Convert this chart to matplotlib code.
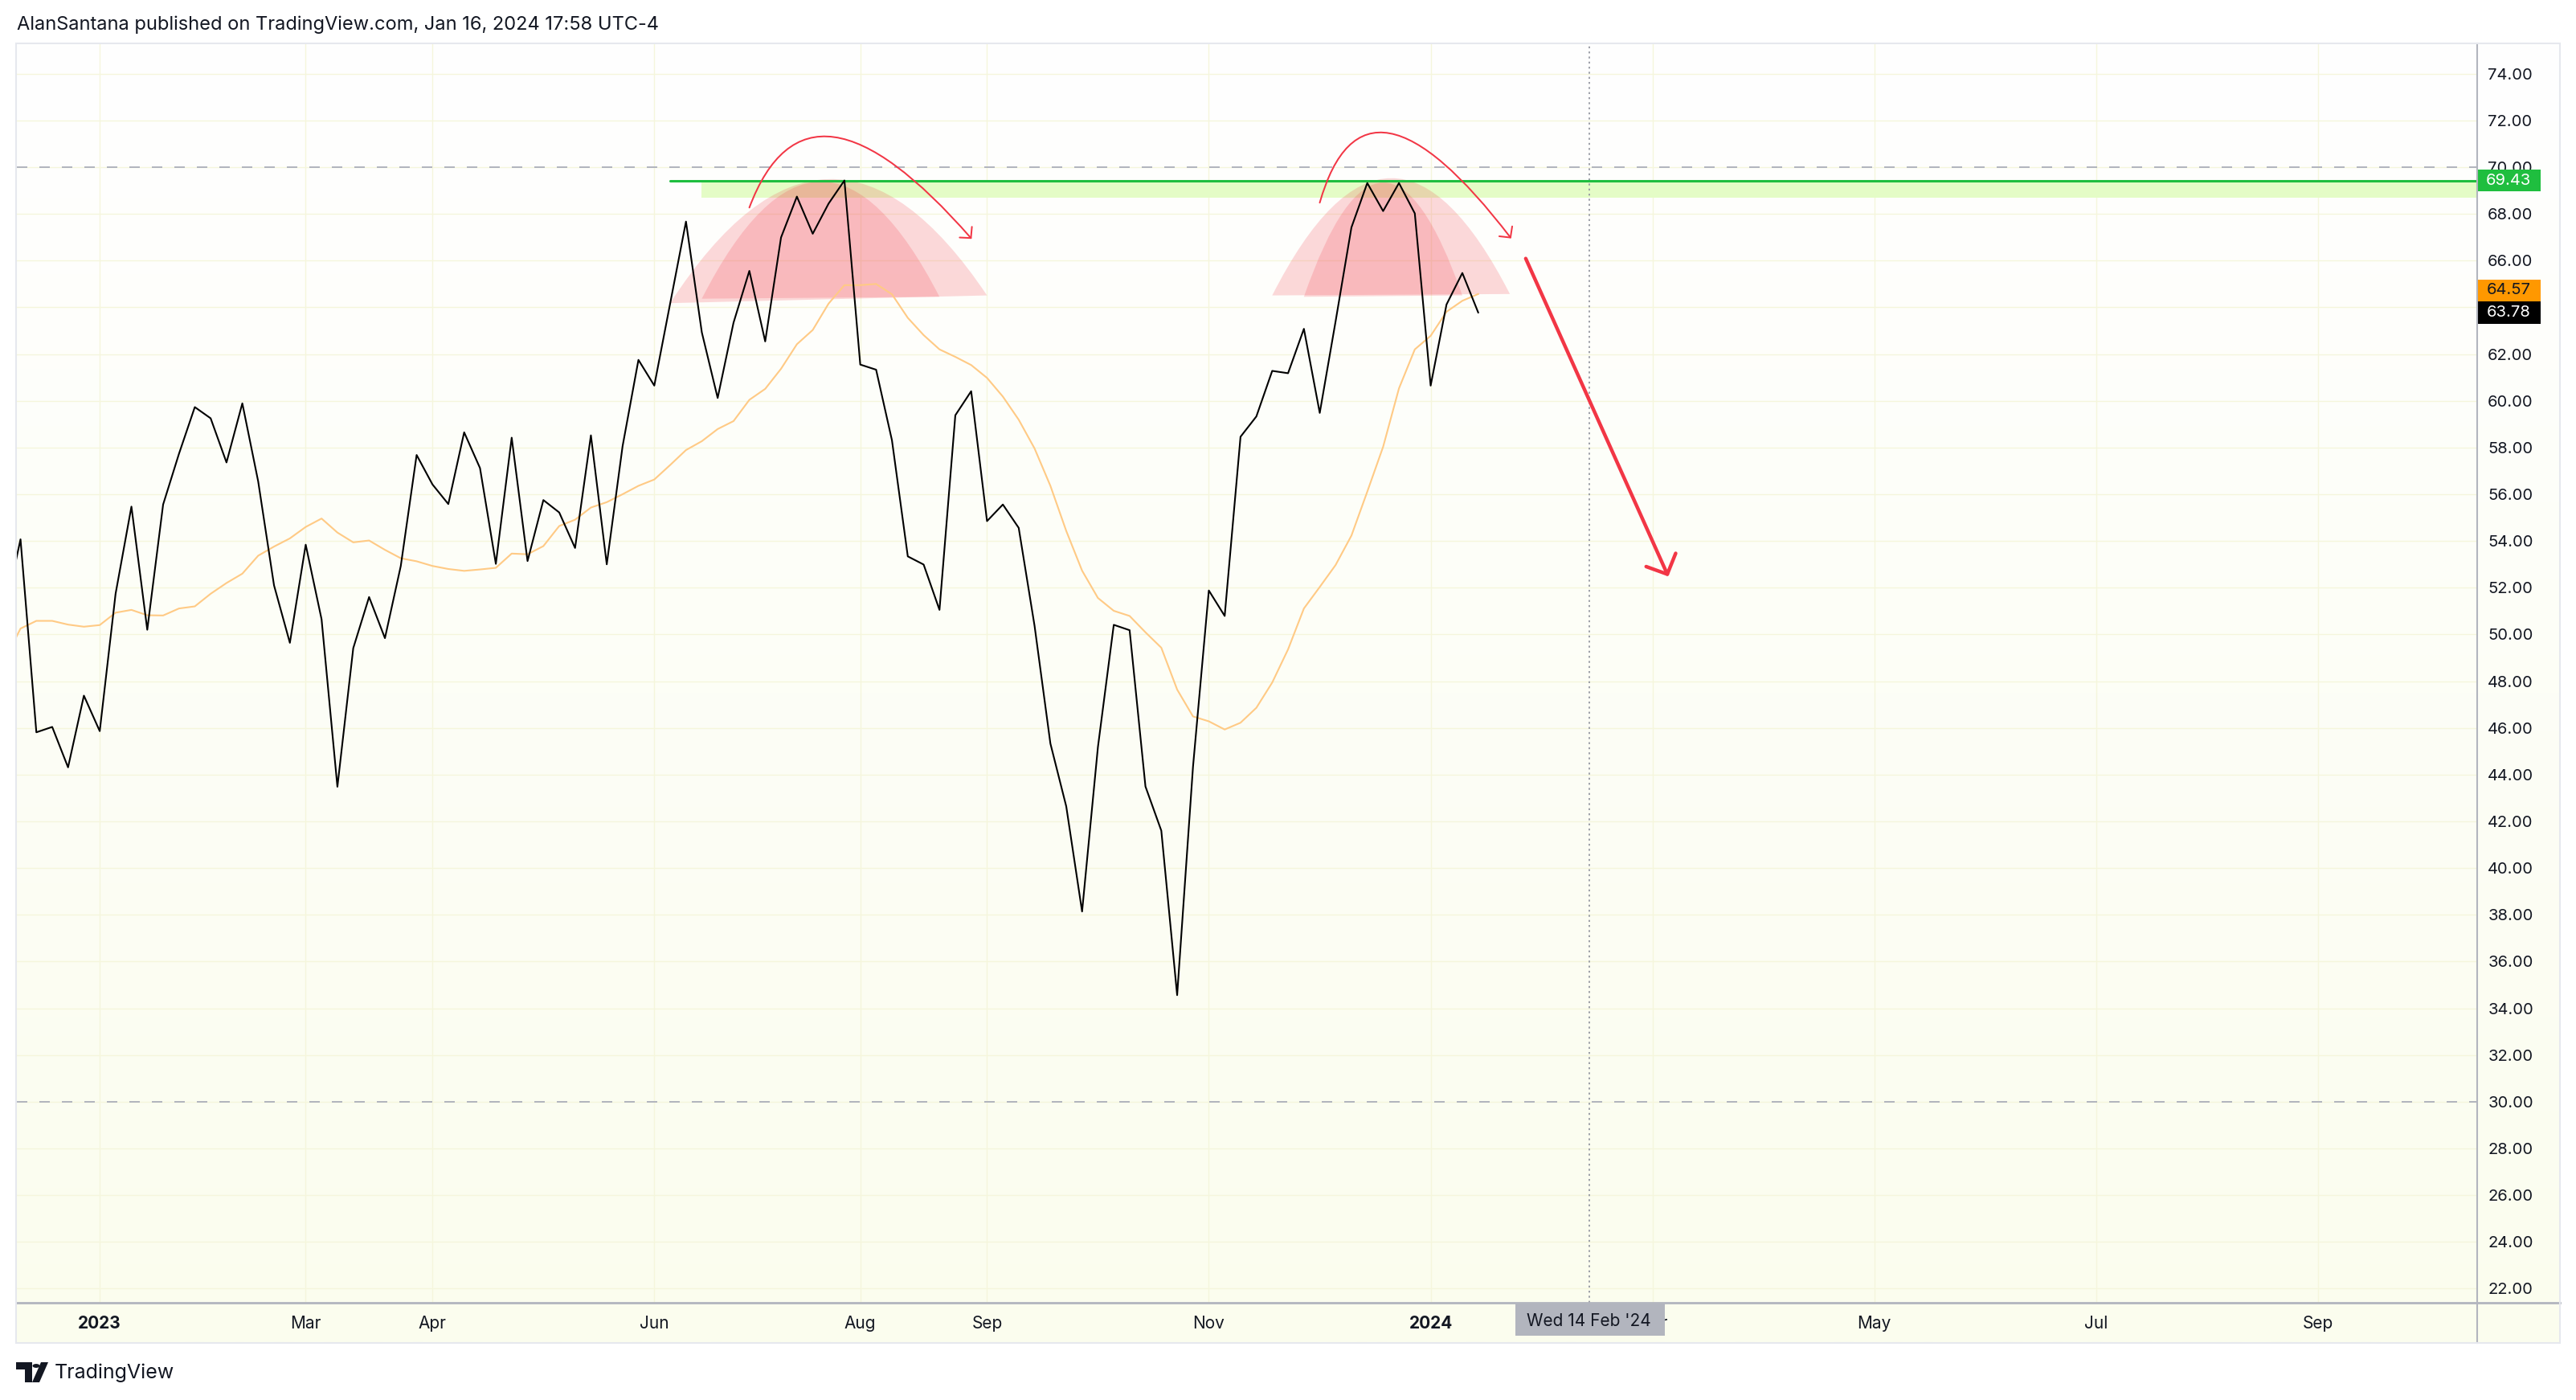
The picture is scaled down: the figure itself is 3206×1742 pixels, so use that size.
import numpy as np
import matplotlib
matplotlib.use("Agg")
import matplotlib.pyplot as plt
from matplotlib.path import Path
from matplotlib.patches import PathPatch, FancyArrowPatch, Rectangle, Polygon, Circle
from matplotlib.lines import Line2D
import matplotlib.transforms as mtransforms

plt.rcParams['font.family'] = ['Inter', 'DejaVu Sans']

# ---------------- data ----------------
bars = list(range(-1, 93))
close = [50.94, 54.07, 45.81, 46.04, 44.31, 47.38, 45.86, 51.74, 55.47, 50.20,
         55.56, 57.73, 59.73, 59.25, 57.36, 59.89, 56.55, 52.10, 49.64, 53.84,
         50.65, 43.48, 49.41, 51.60, 49.84, 52.93, 57.68, 56.42, 55.58, 58.65,
         57.12, 53.02, 58.42, 53.14, 55.75, 55.22, 53.70, 58.52, 53.00, 58.06,
         61.75, 60.65, 64.16, 67.67, 62.93, 60.12, 63.34, 65.56, 62.54, 66.99,
         68.74, 67.15, 68.44, 69.43, 61.55, 61.33, 58.31, 53.34, 52.99, 51.05,
         59.38, 60.41, 54.85, 55.56, 54.56, 50.37, 45.33, 42.64, 38.14, 45.18,
         50.41, 50.18, 43.49, 41.60, 34.56, 44.33, 51.88, 50.79, 58.46, 59.33,
         61.28, 61.18, 63.08, 59.48, 63.40, 67.42, 69.32, 68.12, 69.32, 68.02,
         60.65, 64.12, 65.47, 63.78]
ma = [48.90, 50.25, 50.58, 50.58, 50.42, 50.33, 50.40, 50.93, 51.05, 50.82,
      50.81, 51.11, 51.20, 51.74, 52.20, 52.60, 53.37, 53.76, 54.11, 54.60,
      54.96, 54.36, 53.94, 54.02, 53.62, 53.26, 53.13, 52.93, 52.80, 52.72,
      52.78, 52.85, 53.46, 53.43, 53.78, 54.64, 54.91, 55.43, 55.66, 56.00,
      56.36, 56.63, 57.25, 57.89, 58.27, 58.79, 59.13, 60.04, 60.51, 61.37,
      62.42, 63.03, 64.16, 64.95, 64.95, 65.00, 64.56, 63.55, 62.81, 62.20,
      61.88, 61.53, 60.98, 60.18, 59.19, 57.96, 56.36, 54.43, 52.73, 51.56,
      51.01, 50.79, 50.09, 49.43, 47.64, 46.49, 46.28, 45.93, 46.22, 46.86,
      47.94, 49.36, 51.11, 52.03, 52.97, 54.23, 56.11, 58.03, 60.53, 62.20,
      62.78, 63.81, 64.28, 64.57]

x_ticks = [5, 18, 26, 40, 53, 61, 75, 89, 103, 117, 131, 145]
x_labels = ['2023', 'Mar', 'Apr', 'Jun', 'Aug', 'Sep', 'Nov', '2024', 'Mar', 'May', 'Jul', 'Sep']
year_labels = {'2023', '2024'}
y_ticks = list(range(22, 76, 2))

level_value = 69.43
level_start = 41
band_low, band_high = 68.68, 69.40
band_start = 43
upper_dash, lower_dash = 70, 30

cursor_bar = 99
cursor_label = "Wed 14 Feb '24"

# domes: (left bar, left value, right bar, right value, peak value)
domes = [(41, 64.18, 61, 64.51, 69.49),
         (43, 64.37, 58, 64.45, 69.38),
         (79, 64.51, 94, 64.57, 69.53),
         (81, 64.45, 91, 64.51, 69.34)]
# curved arrows: start, middle, end (bar, value)
curves = [[(46.0, 68.27), (51.36, 71.28), (60.03, 66.93)],
          [(82.0, 68.48), (86.43, 71.44), (94.08, 66.95)]]
big_arrow = [(95.0, 66.09), (104.0, 52.48)]

# ---------------- layout ----------------
W, H, DPI = 3206, 1742, 100
fig = plt.figure(figsize=(W / DPI, H / DPI), dpi=DPI)
fig.patch.set_facecolor('white')

def fx(px):
    return px / W

def fy(py):
    return 1 - py / H

FL, FR, FT, FB = 20, 3186, 54, 1671
PL, PR, PT, PB = 21, 3083, 54, 1621

# gradient background
bg = fig.add_axes([fx(FL), fy(FB), (FR - FL) / W, (FB - FT) / H], zorder=-10)
top_c = np.array([255, 255, 255]) / 255
bot_c = np.array([251, 253, 238]) / 255
t = np.linspace(0, 1, 256)[:, None]
grad = (top_c[None, :] * (1 - t) + bot_c[None, :] * t)[:, None, :]
bg.imshow(grad, aspect='auto', extent=[0, 1, 0, 1], interpolation='bilinear')
bg.set_axis_off()

ax = fig.add_axes([fx(PL), fy(PB), (PR - PL) / W, (PB - PT) / H])
ax.set_facecolor('none')
for s in ax.spines.values():
    s.set_visible(False)
ax.set_xlim(-0.23, 155.05)
ax.set_ylim(21.393, 75.297)

ax.set_yticks(y_ticks)
ax.set_yticklabels([f"{v:.2f}" for v in y_ticks])
ax.yaxis.tick_right()
ax.tick_params(axis='y', length=0, pad=9.5, labelsize=14.5, labelcolor='#131722')
ax.set_xticks(x_ticks)
ax.set_xticklabels(x_labels)
ax.tick_params(axis='x', length=0, pad=11.5, labelsize=15, labelcolor='#131722')
for lbl in ax.get_xticklabels():
    if lbl.get_text() in year_labels:
        lbl.set_fontweight('bold')
ax.grid(True, color='#F5F6DC', lw=1.0)
ax.set_axisbelow(True)

# band and level line
ax.fill_between([band_start, ax.get_xlim()[1]], band_low, band_high,
                color='#E4FCC6', lw=0, zorder=1)

# domes
for lx, ly, rx, ry, pk in domes:
    cx = (lx + rx) / 2
    cy = 2 * pk - (ly + ry) / 2
    p = Path([(lx, ly), (cx, cy), (rx, ry), (lx, ly)],
             [Path.MOVETO, Path.CURVE3, Path.CURVE3, Path.CLOSEPOLY])
    ax.add_patch(PathPatch(p, fc='#F23645', alpha=0.19, lw=0, zorder=2))

# dashed 70/30
for v in (upper_dash, lower_dash):
    ln = ax.axhline(v, color='#B2B5BE', lw=1.44, zorder=2.2)
    ln.set_dashes([6.5, 7.5])

ax.plot([level_start, ax.get_xlim()[1]], [level_value, level_value],
        color='#1FBE3F', lw=2.2, zorder=3, solid_capstyle='round')

# cursor line
cl = ax.axvline(cursor_bar, color='#9598A1', lw=1.3, zorder=2.3)
cl.set_dashes([1.3, 2.2])

ax.plot(bars, ma, color='#FFCA85', lw=1.5, zorder=3.5)
ax.plot(bars, close, color='black', lw=1.5, zorder=4)

# curved arrows
for p0, m, p2 in curves:
    p0 = np.array(p0); m = np.array(m); p2 = np.array(p2)
    p1 = 2 * m - (p0 + p2) / 2
    path = Path([p0, p1, p2], [Path.MOVETO, Path.CURVE3, Path.CURVE3])
    arr = FancyArrowPatch(path=path, arrowstyle='->,head_length=7,head_width=7.3',
                          color='#F23645', lw=1.44, zorder=5, capstyle='round')
    ax.add_patch(arr)

arr = FancyArrowPatch(big_arrow[0], big_arrow[1],
                      arrowstyle='->,head_length=14,head_width=14.5',
                      color='#F23645', lw=3.2, zorder=5, shrinkA=0, shrinkB=0,
                      capstyle='round', joinstyle='round')
ax.add_patch(arr)

# price labels on axis
tr_y = mtransforms.blended_transform_factory(fig.transFigure, ax.transData)
box_h = 27.5 / 29.07
last_close = close[-1]
last_ma = ma[-1]
c_close = last_close
c_ma = max(last_ma, c_close + box_h)
for val, cen, fc, tc in [(level_value, level_value, '#1FBE3F', 'white'),
                         (last_ma, c_ma, '#FF9800', '#131722'),
                         (last_close, c_close, '#000000', 'white')]:
    ax.add_patch(Rectangle((fx(3082), cen - box_h / 2), 80 / W, box_h, transform=tr_y,
                           fc=fc, ec='none', clip_on=False, zorder=10))
    ax.text(fx(3122), cen, f"{val:.2f}", transform=tr_y, ha='center', va='center',
            fontsize=14.5, color=tc, zorder=11, clip_on=False)

# cursor label on time axis
tr_x = mtransforms.blended_transform_factory(ax.transData, fig.transFigure)
bw = 186 / 19.72
ax.add_patch(Rectangle((cursor_bar - bw / 2 + 0.05, fy(1662)), bw, (1662 - 1622) / H, transform=tr_x,
                       fc='#B2B5BE', ec='none', clip_on=False, zorder=10))
ax.text(cursor_bar, fy(1644), cursor_label, transform=tr_x, ha='center', va='center',
        fontsize=15, color='#131722', zorder=11, clip_on=False)

# axis lines and frame
fig.add_artist(Line2D([fx(PR), fx(PR)], [fy(FT), fy(FB)], color='#B2B5BE', lw=1.5, zorder=20))
fig.add_artist(Line2D([fx(FL), fx(FR)], [fy(PB), fy(PB)], color='#B2B5BE', lw=2.0, zorder=20))
fig.add_artist(Rectangle((fx(FL), fy(FB)), (FR - FL) / W, (FB - FT) / H, fill=False,
                         ec='#E6E8EE', lw=1.5, transform=fig.transFigure, zorder=20))

# header / footer
fig.text(fx(21), fy(31), "AlanSantana published on TradingView.com, Jan 16, 2024 17:58 UTC-4",
         ha='left', va='center', fontsize=17, color='#131722')
fig.text(fx(68), fy(1708), "TradingView", ha='left', va='center', fontsize=18, color='#131722')
logo_T = [(20, 1695), (40, 1695), (40, 1720), (31, 1720), (31, 1704), (20, 1704)]
fig.add_artist(Polygon([(fx(a), fy(b)) for a, b in logo_T], closed=True, fc='#131722', ec='none',
                       transform=fig.transFigure))
logo_S = [(40, 1720), (51, 1695), (60, 1695), (49, 1720)]
fig.add_artist(Polygon([(fx(a), fy(b)) for a, b in logo_S], closed=True, fc='#131722', ec='none',
                       transform=fig.transFigure))
fig.add_artist(Circle((fx(45), fy(1699.5)), 4.5 / W, fc='#131722', ec='none',
                      transform=fig.transFigure))

fig.savefig('out.png', dpi=DPI)
